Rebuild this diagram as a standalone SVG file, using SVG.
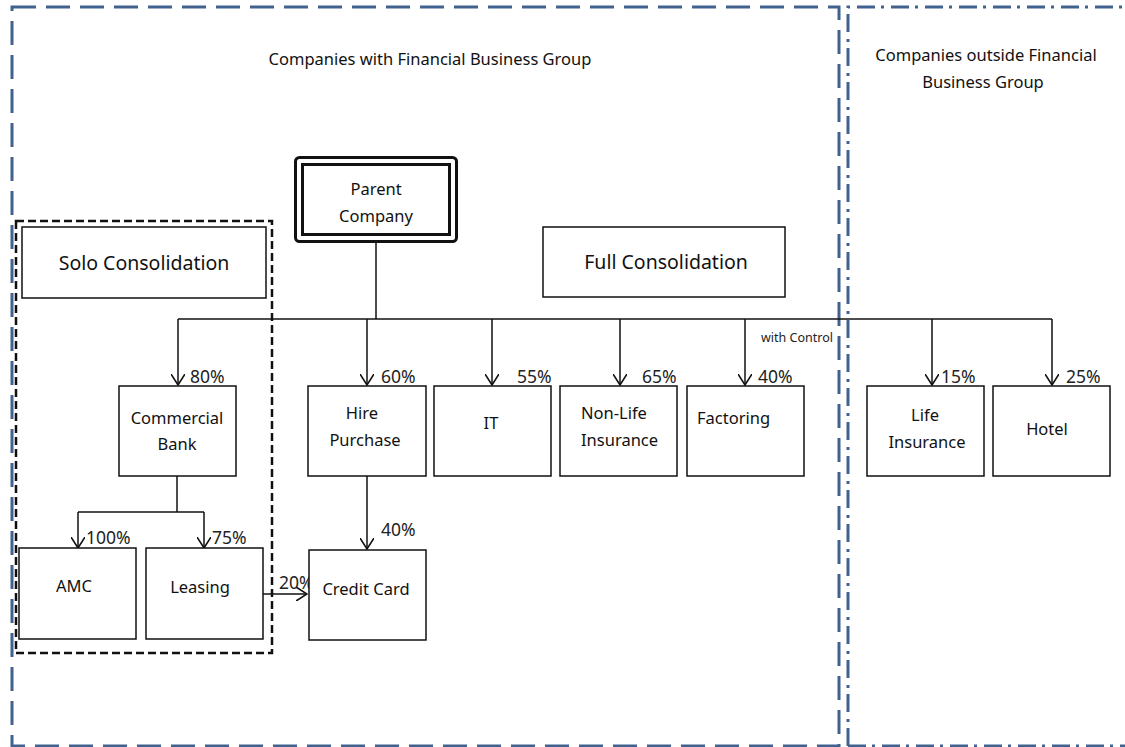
<svg xmlns="http://www.w3.org/2000/svg" width="1125" height="747" viewBox="0 0 1125 747">
<style>
.t{font-family:"Noto Sans","DejaVu Sans",sans-serif;font-size:16.5px;fill:#111}
.c{text-anchor:middle}
.pct{font-family:"Noto Sans","DejaVu Sans",sans-serif;font-size:17.5px;fill:#222}
.box{fill:#fff;stroke:#111;stroke-width:1.5}
.ln{fill:none;stroke:#111;stroke-width:1.5}
.grp{fill:none;stroke:#41618e;stroke-width:3}
</style>
<defs>
<marker id="ah" markerUnits="userSpaceOnUse" viewBox="0 0 12 14" refX="11" refY="7" markerWidth="12" markerHeight="14" orient="auto">
<path d="M0,0 L11,7 L0,14" fill="none" stroke="#111" stroke-width="1.6"/>
</marker>
</defs>
<rect width="1125" height="747" fill="#fff"/>

<g id="group-inside">
<rect class="grp" x="12" y="7" width="827" height="739" stroke-dasharray="24 10"/>
<text class="t c" x="430" y="65">Companies with Financial Business Group</text>
</g>
<g id="group-outside">
<path class="grp" d="M848,746 V7 H1130" stroke-dasharray="18 6 3 7"/>
<path class="grp" d="M848,746 H1130" stroke-dasharray="18 6 3 7"/>
<text class="t c" x="986" y="61">Companies outside Financial</text>
<text class="t c" x="983" y="88">Business Group</text>
</g>

<g id="solo-group">
<rect x="16" y="221" width="256" height="432" fill="none" stroke="#111" stroke-width="2.5" stroke-dasharray="8 4"/>
</g>
<g id="solo-label">
<rect class="box" x="22" y="227" width="244" height="71"/>
<text class="t c" x="144" y="270" style="font-size:19.5px">Solo Consolidation</text>
</g>
<g id="full-label">
<rect class="box" x="543" y="227" width="242" height="70"/>
<text class="t c" x="666" y="269" style="font-size:19.5px">Full Consolidation</text>
</g>

<g id="connectors">
<path class="ln" d="M376,241 V319"/>
<path class="ln" d="M178,319 H1052"/>
<path class="ln" d="M178,319 V385" marker-end="url(#ah)"/>
<path class="ln" d="M367,319 V385" marker-end="url(#ah)"/>
<path class="ln" d="M492,319 V385" marker-end="url(#ah)"/>
<path class="ln" d="M620,319 V385" marker-end="url(#ah)"/>
<path class="ln" d="M745,319 V385" marker-end="url(#ah)"/>
<path class="ln" d="M932,319 V385" marker-end="url(#ah)"/>
<path class="ln" d="M1052,319 V385" marker-end="url(#ah)"/>
<path class="ln" d="M177,476 V512"/>
<path class="ln" d="M78,512 H204"/>
<path class="ln" d="M78,512 V548" marker-end="url(#ah)"/>
<path class="ln" d="M204,512 V548" marker-end="url(#ah)"/>
<path class="ln" d="M367,476 V549" marker-end="url(#ah)"/>
<path class="ln" d="M263,594 H307" marker-end="url(#ah)"/>
<text class="pct" x="190" y="383">80%</text>
<text class="pct" x="381" y="383">60%</text>
<text class="pct" x="517" y="383">55%</text>
<text class="pct" x="642" y="383">65%</text>
<text class="pct" x="758" y="383">40%</text>
<text class="pct" x="941" y="383">15%</text>
<text class="pct" x="1066" y="383">25%</text>
<text class="pct" x="761" y="342" style="font-size:12.5px">with Control</text>
<text class="pct" x="86" y="544">100%</text>
<text class="pct" x="212" y="544">75%</text>
<text class="pct" x="381" y="536">40%</text>
<text class="pct" x="279" y="589">20%</text>
</g>

<g id="parent">
<rect x="295.5" y="157.5" width="161" height="84" rx="4" fill="#fff" stroke="#111" stroke-width="3"/>
<rect x="302.5" y="164.5" width="147" height="70" fill="none" stroke="#111" stroke-width="3"/>
<text class="t c" x="376" y="195">Parent</text>
<text class="t c" x="376" y="222">Company</text>
</g>
<g id="commercial-bank">
<rect class="box" x="119" y="386" width="117" height="90"/>
<text class="t c" x="177" y="424">Commercial</text>
<text class="t c" x="177" y="450">Bank</text>
</g>
<g id="hire-purchase">
<rect class="box" x="308" y="386" width="118" height="90"/>
<text class="t c" x="362" y="419">Hire</text>
<text class="t c" x="365" y="446">Purchase</text>
</g>
<g id="it">
<rect class="box" x="434" y="386" width="117" height="90"/>
<text class="t c" x="491" y="429">IT</text>
</g>
<g id="non-life">
<rect class="box" x="560" y="386" width="117" height="90"/>
<text class="t" x="581" y="419">Non-Life</text>
<text class="t" x="581" y="446">Insurance</text>
</g>
<g id="factoring">
<rect class="box" x="687" y="386" width="117" height="90"/>
<text class="t" x="697" y="424">Factoring</text>
</g>
<g id="life">
<rect class="box" x="867" y="386" width="117" height="90"/>
<text class="t c" x="925" y="421">Life</text>
<text class="t c" x="927" y="448">Insurance</text>
</g>
<g id="hotel">
<rect class="box" x="993" y="386" width="117" height="90"/>
<text class="t c" x="1047" y="435">Hotel</text>
</g>
<g id="amc">
<rect class="box" x="19" y="548" width="117" height="91"/>
<text class="t c" x="74" y="592">AMC</text>
</g>
<g id="leasing">
<rect class="box" x="146" y="548" width="117" height="91"/>
<text class="t c" x="200" y="593">Leasing</text>
</g>
<g id="credit-card">
<rect class="box" x="309" y="550" width="117" height="90"/>
<text class="t c" x="366" y="595">Credit Card</text>
</g>
</svg>
